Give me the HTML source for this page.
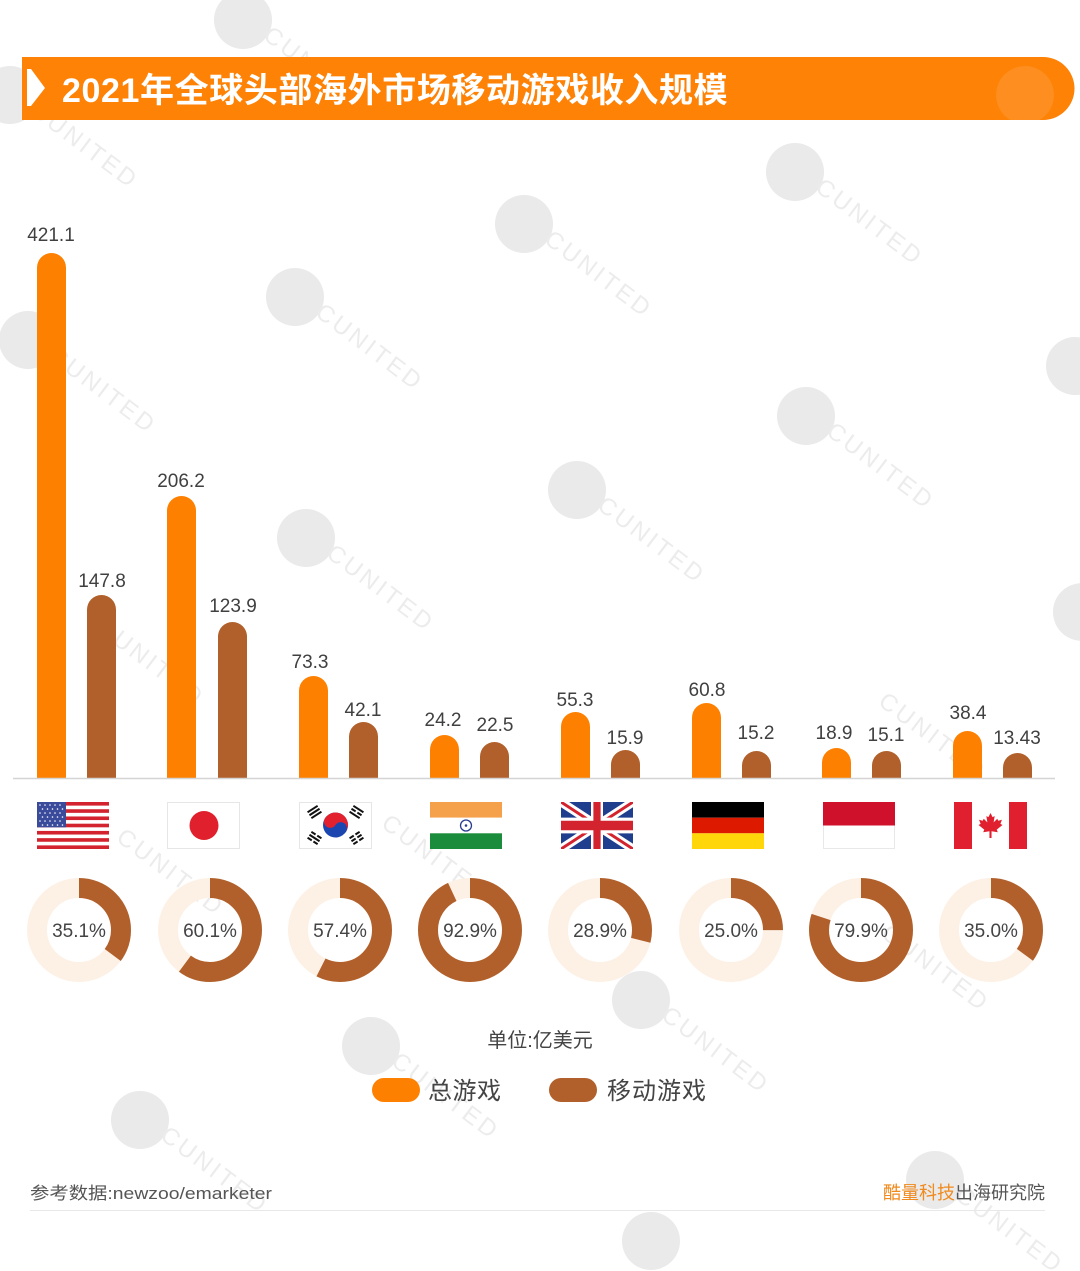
<!DOCTYPE html>
<html>
<head>
<meta charset="utf-8">
<style>
html,body{margin:0;padding:0;background:#fff;}
svg{display:block;}
text{font-family:"Liberation Sans","Noto Sans CJK SC",sans-serif;}
</style>
</head>
<body>
<svg width="1080" height="1271" viewBox="0 0 1080 1271" xmlns="http://www.w3.org/2000/svg">
<rect width="1080" height="1271" fill="#fff"/>

<!-- watermarks (under content) -->
<g fill="#eaeaea">
  <circle cx="243" cy="20" r="29"/>
  <circle cx="795" cy="172" r="29"/>
  <circle cx="524" cy="224" r="29"/>
  <circle cx="295" cy="297" r="29"/>
  <circle cx="28" cy="340" r="29"/>
  <circle cx="1075" cy="366" r="29"/>
  <circle cx="806" cy="416" r="29"/>
  <circle cx="577" cy="490" r="29"/>
  <circle cx="306" cy="538" r="29"/>
  <circle cx="1082" cy="612" r="29"/>
  <circle cx="641" cy="1000" r="29"/>
  <circle cx="371" cy="1046" r="29"/>
  <circle cx="140" cy="1120" r="29"/>
  <circle cx="651" cy="1241" r="29"/>
  <circle cx="935" cy="1180" r="29"/>
  <circle cx="10" cy="95" r="29"/>
</g>
<g fill="#ececec" font-size="24" letter-spacing="3">
  <text transform="translate(262,38) rotate(37)">CUNITED</text>
  <text transform="translate(814,190) rotate(37)">CUNITED</text>
  <text transform="translate(543,242) rotate(37)">CUNITED</text>
  <text transform="translate(314,315) rotate(37)">CUNITED</text>
  <text transform="translate(47,358) rotate(37)">CUNITED</text>
  <text transform="translate(825,434) rotate(37)">CUNITED</text>
  <text transform="translate(596,508) rotate(37)">CUNITED</text>
  <text transform="translate(325,556) rotate(37)">CUNITED</text>
  <text transform="translate(95,630) rotate(37)">CUNITED</text>
  <text transform="translate(877,704) rotate(37)">CUNITED</text>
  <text transform="translate(660,1018) rotate(37)">CUNITED</text>
  <text transform="translate(390,1064) rotate(37)">CUNITED</text>
  <text transform="translate(159,1138) rotate(37)">CUNITED</text>
  <text transform="translate(954,1198) rotate(37)">CUNITED</text>
  <text transform="translate(29,113) rotate(37)">CUNITED</text>
  <text transform="translate(115,840) rotate(37)">CUNITED</text>
  <text transform="translate(380,826) rotate(37)">CUNITED</text>
  <text transform="translate(880,936) rotate(37)">CUNITED</text>
</g>

<!-- title bar -->
<path d="M22,57 H1043 A31.5,31.5 0 0 1 1043,120 H22 Z" fill="#fd8206"/>
<circle cx="1025" cy="95" r="29" fill="#fff" opacity="0.1"/>
<polygon points="27,69 31,69 45,88 31,106 27,106" fill="#fff"/>
<text x="62" y="102" font-size="34" font-weight="bold" fill="#fff" letter-spacing="0.6">2021年全球头部海外市场移动游戏收入规模</text>

<!-- bars -->
<g fill="#fe8000">
  <path d="M37,778 V267.5 A14.5,14.5 0 0 1 66,267.5 V778 Z"/>
  <path d="M167,778 V510.5 A14.5,14.5 0 0 1 196,510.5 V778 Z"/>
  <path d="M299,778 V690.5 A14.5,14.5 0 0 1 328,690.5 V778 Z"/>
  <path d="M430,778 V749.5 A14.5,14.5 0 0 1 459,749.5 V778 Z"/>
  <path d="M561,778 V726.5 A14.5,14.5 0 0 1 590,726.5 V778 Z"/>
  <path d="M692,778 V717.5 A14.5,14.5 0 0 1 721,717.5 V778 Z"/>
  <path d="M822,778 V762.5 A14.5,14.5 0 0 1 851,762.5 V778 Z"/>
  <path d="M953,778 V745.5 A14.5,14.5 0 0 1 982,745.5 V778 Z"/>
</g>
<g fill="#b1602b">
  <path d="M87,778 V609.5 A14.5,14.5 0 0 1 116,609.5 V778 Z"/>
  <path d="M218,778 V636.5 A14.5,14.5 0 0 1 247,636.5 V778 Z"/>
  <path d="M349,778 V736.5 A14.5,14.5 0 0 1 378,736.5 V778 Z"/>
  <path d="M480,778 V756.5 A14.5,14.5 0 0 1 509,756.5 V778 Z"/>
  <path d="M611,778 V764.5 A14.5,14.5 0 0 1 640,764.5 V778 Z"/>
  <path d="M742,778 V765.5 A14.5,14.5 0 0 1 771,765.5 V778 Z"/>
  <path d="M872,778 V765.5 A14.5,14.5 0 0 1 901,765.5 V778 Z"/>
  <path d="M1003,778 V767.5 A14.5,14.5 0 0 1 1032,767.5 V778 Z"/>
</g>
<line x1="13" y1="778.5" x2="1055" y2="778.5" stroke="#d4d4d4" stroke-width="1.5"/>

<!-- value labels -->
<g font-size="19" fill="#404040" text-anchor="middle">
  <text x="51" y="241">421.1</text>
  <text x="102" y="587">147.8</text>
  <text x="181" y="487">206.2</text>
  <text x="233" y="612">123.9</text>
  <text x="310" y="668">73.3</text>
  <text x="363" y="716">42.1</text>
  <text x="443" y="726">24.2</text>
  <text x="495" y="731">22.5</text>
  <text x="575" y="706">55.3</text>
  <text x="625" y="744">15.9</text>
  <text x="707" y="696">60.8</text>
  <text x="756" y="739">15.2</text>
  <text x="834" y="739">18.9</text>
  <text x="886" y="741">15.1</text>
  <text x="968" y="719">38.4</text>
  <text x="1017" y="744">13.43</text>
</g>

<!-- flags -->
<!-- USA -->
<g>
  <rect x="37" y="802" width="72" height="47" fill="#fff"/>
  <g fill="#d2232e">
    <rect x="37" y="802" width="72" height="3.62"/>
    <rect x="37" y="809.23" width="72" height="3.62"/>
    <rect x="37" y="816.46" width="72" height="3.62"/>
    <rect x="37" y="823.69" width="72" height="3.62"/>
    <rect x="37" y="830.92" width="72" height="3.62"/>
    <rect x="37" y="838.15" width="72" height="3.62"/>
    <rect x="37" y="845.38" width="72" height="3.62"/>
  </g>
  <rect x="37" y="802" width="29" height="25.3" fill="#3b4b9b"/>
  <g fill="#fff">
    <circle cx="40" cy="805" r="0.8"/><circle cx="45" cy="805" r="0.8"/><circle cx="50" cy="805" r="0.8"/><circle cx="55" cy="805" r="0.8"/><circle cx="60" cy="805" r="0.8"/>
    <circle cx="42.5" cy="809" r="0.8"/><circle cx="47.5" cy="809" r="0.8"/><circle cx="52.5" cy="809" r="0.8"/><circle cx="57.5" cy="809" r="0.8"/><circle cx="62.5" cy="809" r="0.8"/>
    <circle cx="40" cy="813" r="0.8"/><circle cx="45" cy="813" r="0.8"/><circle cx="50" cy="813" r="0.8"/><circle cx="55" cy="813" r="0.8"/><circle cx="60" cy="813" r="0.8"/>
    <circle cx="42.5" cy="817" r="0.8"/><circle cx="47.5" cy="817" r="0.8"/><circle cx="52.5" cy="817" r="0.8"/><circle cx="57.5" cy="817" r="0.8"/><circle cx="62.5" cy="817" r="0.8"/>
    <circle cx="40" cy="821" r="0.8"/><circle cx="45" cy="821" r="0.8"/><circle cx="50" cy="821" r="0.8"/><circle cx="55" cy="821" r="0.8"/><circle cx="60" cy="821" r="0.8"/>
    <circle cx="42.5" cy="825" r="0.8"/><circle cx="47.5" cy="825" r="0.8"/><circle cx="52.5" cy="825" r="0.8"/><circle cx="57.5" cy="825" r="0.8"/><circle cx="62.5" cy="825" r="0.8"/>
  </g>
</g>
<!-- Japan -->
<rect x="167.5" y="802.5" width="72" height="46" fill="#fff" stroke="#e6e6e6" stroke-width="1"/>
<circle cx="204" cy="825.5" r="14.5" fill="#e0202c"/>
<!-- Korea -->
<rect x="299.5" y="802.5" width="72" height="46" fill="#fff" stroke="#e6e6e6" stroke-width="1"/>
<g transform="translate(335.5,825) rotate(33)">
  <circle r="12.5" fill="#1b46b0"/>
  <path d="M-12.5,0 A12.5,12.5 0 0 1 12.5,0 Z" fill="#e3212e"/>
  <circle cx="-6.25" cy="0" r="6.25" fill="#e3212e"/>
  <circle cx="6.25" cy="0" r="6.25" fill="#1b46b0"/>
</g>
<g transform="translate(335.5,825)" fill="#111">
  <g transform="translate(-21,-13) rotate(-33)"><rect x="-6" y="-4.5" width="12" height="2"/><rect x="-6" y="-1" width="12" height="2"/><rect x="-6" y="2.5" width="12" height="2"/></g>
  <g transform="translate(21,-13) rotate(33)"><rect x="-6" y="-4.5" width="12" height="2"/><rect x="-6" y="-1" width="5" height="2"/><rect x="1" y="-1" width="5" height="2"/><rect x="-6" y="2.5" width="12" height="2"/></g>
  <g transform="translate(-21,13) rotate(33)"><rect x="-6" y="-4.5" width="5" height="2"/><rect x="1" y="-4.5" width="5" height="2"/><rect x="-6" y="-1" width="12" height="2"/><rect x="-6" y="2.5" width="5" height="2"/><rect x="1" y="2.5" width="5" height="2"/></g>
  <g transform="translate(21,13) rotate(-33)"><rect x="-6" y="-4.5" width="5" height="2"/><rect x="1" y="-4.5" width="5" height="2"/><rect x="-6" y="-1" width="5" height="2"/><rect x="1" y="-1" width="5" height="2"/><rect x="-6" y="2.5" width="5" height="2"/><rect x="1" y="2.5" width="5" height="2"/></g>
</g>
<!-- India -->
<rect x="430" y="802" width="72" height="15.7" fill="#f5a04a"/>
<rect x="430" y="817.7" width="72" height="15.6" fill="#fff"/>
<rect x="430" y="833.3" width="72" height="15.7" fill="#1b8c3c"/>
<circle cx="466" cy="825.5" r="5.5" fill="none" stroke="#2a3d8f" stroke-width="1.3"/>
<circle cx="466" cy="825.5" r="1.3" fill="#2a3d8f"/>
<!-- UK -->
<svg x="561" y="802" width="72" height="47" viewBox="0 0 60 30" preserveAspectRatio="none">
  <rect width="60" height="30" fill="#1f3f8e"/>
  <path d="M0,0 L60,30 M60,0 L0,30" stroke="#fff" stroke-width="6"/>
  <path d="M0,0 L60,30 M60,0 L0,30" stroke="#d2232e" stroke-width="2"/>
  <path d="M30,0 V30 M0,15 H60" stroke="#fff" stroke-width="10"/>
  <path d="M30,0 V30 M0,15 H60" stroke="#d2232e" stroke-width="6"/>
</svg>
<!-- Germany -->
<rect x="692" y="802" width="72" height="15.7" fill="#000"/>
<rect x="692" y="817.7" width="72" height="15.6" fill="#dd1a00"/>
<rect x="692" y="833.3" width="72" height="15.7" fill="#ffd60a"/>
<!-- Indonesia -->
<rect x="823.5" y="802.5" width="71" height="46" fill="#fff" stroke="#e8e8e8" stroke-width="1"/>
<rect x="823" y="802" width="72" height="23.5" fill="#d0112b"/>
<!-- Canada -->
<rect x="954" y="802" width="73" height="47" fill="#fff"/>
<rect x="954" y="802" width="18" height="47" fill="#e0202e"/>
<rect x="1009" y="802" width="18" height="47" fill="#e0202e"/>
<path transform="translate(990.5,826) scale(0.26)" fill="#e0202e" d="M0,-50 L8,-34 L16,-38 L12,-14 L26,-28 L30,-20 L44,-24 L38,-8 L46,-4 L24,14 L28,24 L4,20 L4,46 L-4,46 L-4,20 L-28,24 L-24,14 L-46,-4 L-38,-8 L-44,-24 L-30,-20 L-26,-28 L-12,-14 L-16,-38 L-8,-34 Z"/>

<!-- donuts -->
<g fill="none" stroke-width="20">
  <circle cx="79" cy="930" r="42" stroke="#fdf1e6"/>
  <circle cx="210" cy="930" r="42" stroke="#fdf1e6"/>
  <circle cx="340" cy="930" r="42" stroke="#fdf1e6"/>
  <circle cx="470" cy="930" r="42" stroke="#fdf1e6"/>
  <circle cx="600" cy="930" r="42" stroke="#fdf1e6"/>
  <circle cx="731" cy="930" r="42" stroke="#fdf1e6"/>
  <circle cx="861" cy="930" r="42" stroke="#fdf1e6"/>
  <circle cx="991" cy="930" r="42" stroke="#fdf1e6"/>
</g>
<g fill="none" stroke-width="20" stroke="#b1602b">
  <circle cx="79" cy="930" r="42" stroke-dasharray="92.63 263.89" transform="rotate(-90 79 930)"/>
  <circle cx="210" cy="930" r="42" stroke-dasharray="158.60 263.89" transform="rotate(-90 210 930)"/>
  <circle cx="340" cy="930" r="42" stroke-dasharray="151.47 263.89" transform="rotate(-90 340 930)"/>
  <circle cx="470" cy="930" r="42" stroke-dasharray="245.15 263.89" transform="rotate(-90 470 930)"/>
  <circle cx="600" cy="930" r="42" stroke-dasharray="76.26 263.89" transform="rotate(-90 600 930)"/>
  <circle cx="731" cy="930" r="42" stroke-dasharray="65.97 263.89" transform="rotate(-90 731 930)"/>
  <circle cx="861" cy="930" r="42" stroke-dasharray="210.85 263.89" transform="rotate(-90 861 930)"/>
  <circle cx="991" cy="930" r="42" stroke-dasharray="92.36 263.89" transform="rotate(-90 991 930)"/>
</g>
<g font-size="19" fill="#444" text-anchor="middle">
  <text x="79" y="937">35.1%</text>
  <text x="210" y="937">60.1%</text>
  <text x="340" y="937">57.4%</text>
  <text x="470" y="937">92.9%</text>
  <text x="600" y="937">28.9%</text>
  <text x="731" y="937">25.0%</text>
  <text x="861" y="937">79.9%</text>
  <text x="991" y="937">35.0%</text>
</g>

<!-- unit + legend -->
<text x="540" y="1047" font-size="20" fill="#444" text-anchor="middle">单位:亿美元</text>
<rect x="372" y="1078" width="48" height="24" rx="12" fill="#fe8000"/>
<text x="428" y="1099" font-size="24" fill="#444" letter-spacing="0.5">总游戏</text>
<rect x="549" y="1078" width="48" height="24" rx="12" fill="#b1602b"/>
<text x="607" y="1099" font-size="24" fill="#444" letter-spacing="1">移动游戏</text>

<!-- footer -->
<text x="30" y="1199" font-size="17" fill="#555" textLength="242" lengthAdjust="spacingAndGlyphs">参考数据:newzoo/emarketer</text>
<text x="1045" y="1199" font-size="18" fill="#555" text-anchor="end"><tspan fill="#f08a1e">酷量科技</tspan>出海研究院</text>
<line x1="30" y1="1210.5" x2="1045" y2="1210.5" stroke="#e8e8e8" stroke-width="1"/>
</svg>
</body>
</html>
